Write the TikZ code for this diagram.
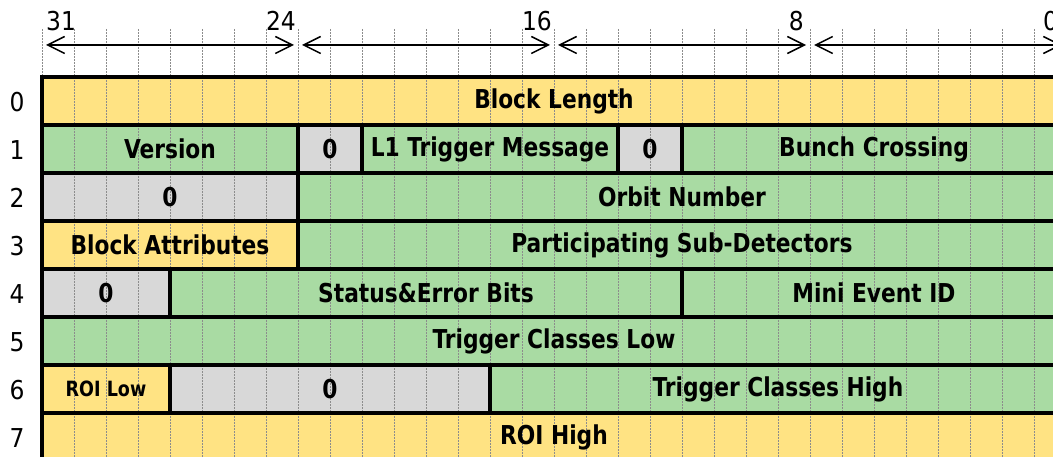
\documentclass[tikz,border=0pt]{standalone}
\usepackage{fontspec}
\setsansfont{DejaVu Sans Condensed}
\newfontfamily\fieldfont{DejaVu Sans Condensed}[FakeStretch=0.93]
\usetikzlibrary{arrows.meta}
\pgfdeclarelayer{bg}
\pgfdeclarelayer{gridlayer}
\pgfsetlayers{bg,gridlayer,main}
\definecolor{yel}{HTML}{FFE383}
\definecolor{grn}{HTML}{A9DBA3}
\definecolor{gry}{HTML}{D8D8D8}
\tikzset{
  fieldbox/.style={draw=black, line width=4pt, inner sep=0pt, outer sep=0pt,
    font=\fieldfont\bfseries\fontsize{26}{28}\selectfont, text=black},
  gridline/.style={draw=black!45, line width=1pt, dash pattern=on 2pt off 1pt},
  bitarrow/.style={line width=1.5pt, {Straight Barb[length=17pt,width=17pt]}-{Straight Barb[length=17pt,width=17pt]}},
  numlabel/.style={font=\sffamily\fontsize{26}{28}\selectfont, inner sep=0pt},
}
\newcommand\fld[6]{%
  \pgfmathsetmacro\fxa{42+(31-#3)*32}%
  \pgfmathsetmacro\fwid{(#3-#4+1)*32}%
  \pgfmathsetmacro\fya{77+#2*48}%
  \node[fieldbox, minimum width=\fwid pt, minimum height=48pt, anchor=north west] (#1) at (\fxa,\fya) {#6};
  \begin{pgfonlayer}{bg}\fill[#5] (#1.north west) rectangle (#1.south east);\end{pgfonlayer}%
}
\begin{document}
\begin{tikzpicture}[x=1pt,y=-1pt]
\useasboundingbox (0,0) rectangle (1053,457);
% grid lines
\begin{pgfonlayer}{gridlayer}
\foreach \k in {0,...,32}{
  \coordinate (gt\k) at (42+\k*32,29);
  \coordinate (gb\k) at (42+\k*32,460);
  \draw[gridline] (gt\k) -- (gb\k);
}
\end{pgfonlayer}
% bit arrows
\foreach \a/\b in {0/8,8/16,16/24,24/32}{
  \coordinate (al\a) at (42+\a*32+4,45);
  \coordinate (ar\a) at (42+\b*32-4,45);
  \draw[bitarrow] (al\a) -- (ar\a);
}
\node[numlabel, anchor=south west] (b31) at (46,31) {31};
\node[numlabel, anchor=south east] (b24) at (296,31) {24};
\node[numlabel, anchor=south east] (b16) at (552,31) {16};
\node[numlabel, anchor=south east] (b8) at (804,31) {8};
\node[numlabel, anchor=south west] (b0) at (1043,31) {0};
% row labels
\foreach \r in {0,...,7}{
  \node[numlabel] (r\r) at (17,102+\r*48) {\r};
}
% fields
\fld{blen}{0}{31}{0}{yel}{Block Length}
\fld{ver}{1}{31}{24}{grn}{Version}
\fld{za}{1}{23}{22}{gry}{0}
\fld{lone}{1}{21}{14}{grn}{L1 Trigger Message}
\fld{zb}{1}{13}{12}{gry}{0}
\fld{bc}{1}{11}{0}{grn}{Bunch Crossing}
\fld{zc}{2}{31}{24}{gry}{0}
\fld{orb}{2}{23}{0}{grn}{Orbit Number}
\fld{battr}{3}{31}{24}{yel}{Block Attributes}
\fld{psd}{3}{23}{0}{grn}{Participating Sub-Detectors}
\fld{zd}{4}{31}{28}{gry}{0}
\fld{seb}{4}{27}{12}{grn}{Status\&Error Bits}
\fld{mei}{4}{11}{0}{grn}{Mini Event ID}
\fld{tcl}{5}{31}{0}{grn}{Trigger Classes Low}
\fld{roil}{6}{31}{28}{yel}{\fontsize{21}{23}\selectfont ROI Low}
\fld{ze}{6}{27}{18}{gry}{0}
\fld{tch}{6}{17}{0}{grn}{Trigger Classes High}
\fld{roih}{7}{31}{0}{yel}{ROI High}
\end{tikzpicture}
\end{document}
